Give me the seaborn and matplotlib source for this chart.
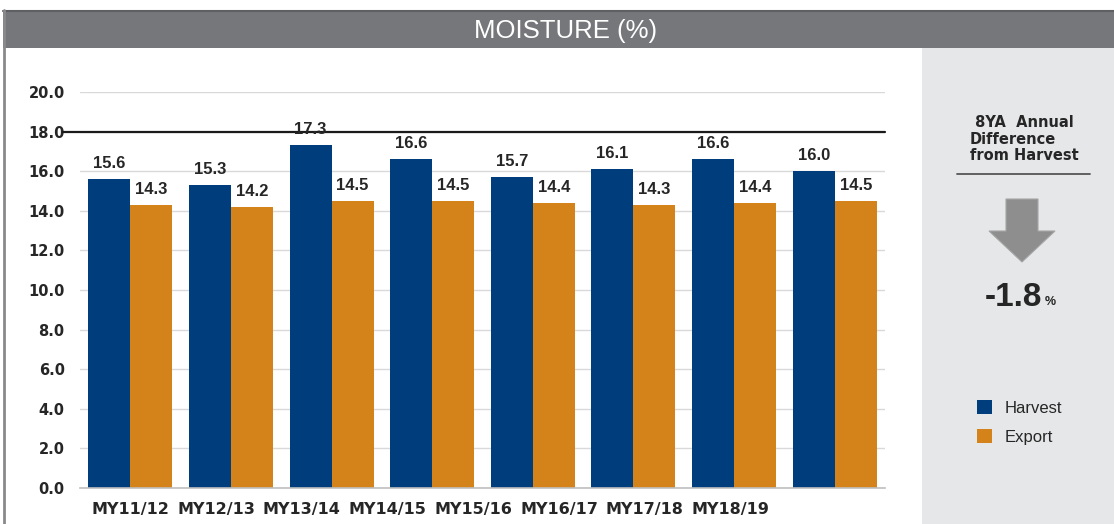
import numpy as np
import pandas as pd
import seaborn as sns
import matplotlib
matplotlib.use("Agg")
import matplotlib.pyplot as plt
from matplotlib.patches import Rectangle, Polygon, Patch
from matplotlib.lines import Line2D

# --- data ---
seasons = ["MY11/12", "MY12/13", "MY13/14", "MY14/15",
           "MY15/16", "MY16/17", "MY17/18", "MY18/19"]
harvest = [15.6, 15.3, 17.3, 16.6, 15.7, 16.1, 16.6, 16.0]
export = [14.3, 14.2, 14.5, 14.5, 14.4, 14.3, 14.4, 14.5]
series_names = ["Harvest", "Export"]
y_ticks = [0, 2, 4, 6, 8, 10, 12, 14, 16, 18, 20]
limit_value = 18.0
avg_difference = -1.8

HARVEST_C = "#003D7C"
EXPORT_C = "#D4821A"
TEXT_C = "#262626"
ARIAL_LIKE = ["Liberation Sans", "DejaVu Sans"]

df = pd.DataFrame({
    "season": seasons * 2,
    "moisture": harvest + export,
    "series": [series_names[0]] * len(seasons) + [series_names[1]] * len(seasons),
})

sns.set_theme(style="white")
plt.rcParams["font.family"] = ["DejaVu Sans"]

W, H = 1114, 524
fig = plt.figure(figsize=(W / 100, H / 100), dpi=100)
fig.patch.set_facecolor("white")


def fx(x):
    return x / W


def fy(y):
    return 1 - y / H


# header bar and side panel
fig.patches.append(Rectangle((fx(3), fy(48)), fx(1114) - fx(3), fy(10) - fy(48),
                             transform=fig.transFigure, facecolor="#76777B",
                             edgecolor="none", zorder=0))
fig.lines.append(Line2D([fx(3), fx(1114)], [fy(10.5), fy(10.5)],
                        transform=fig.transFigure, color="#5E5F62", lw=1.5))
fig.lines.append(Line2D([fx(4), fx(4)], [fy(10), fy(524)],
                        transform=fig.transFigure, color="#8A8A8C", lw=2))
fig.patches.append(Rectangle((fx(922), fy(524)), fx(1114) - fx(922), fy(48) - fy(524),
                             transform=fig.transFigure, facecolor="#E6E7E9",
                             edgecolor="none", zorder=0))
fig.text(fx(566), fy(31), "MOISTURE (%)", color="white", fontsize=18.5,
         family=["Liberation Sans Narrow", "Liberation Sans", "DejaVu Sans"],
         ha="center", va="center")

# main bar chart
ax = fig.add_axes([fx(80), fy(488), fx(885) - fx(80), fy(92) - fy(488)])
sns.barplot(data=df, x="season", y="moisture", hue="series",
            palette=[HARVEST_C, EXPORT_C], width=0.835, saturation=1,
            linewidth=0, ax=ax, legend=False)
ax.set_xlim(-0.5, len(seasons) - 0.5)
ax.set_ylim(0, 20)
ax.set_yticks(y_ticks)
ax.set_yticklabels([f"{v:.1f}" for v in y_ticks])
ax.yaxis.grid(True, color="#D9D9D9", lw=1)
ax.set_axisbelow(True)
for s in ["top", "right", "left"]:
    ax.spines[s].set_visible(False)
ax.spines["bottom"].set_color("#BFBFBF")
ax.spines["bottom"].set_linewidth(1.2)
ax.set_xlabel("")
ax.set_ylabel("")

# category labels run on a slightly tighter step than the bar groups
label_step = 0.852
ax.set_xticks(np.arange(len(seasons)) * label_step)
ax.set_xticklabels(seasons)
ax.tick_params(axis="x", length=0, pad=10, labelsize=11.5, labelcolor=TEXT_C)
ax.tick_params(axis="y", length=0, pad=11, labelsize=10.5, labelcolor=TEXT_C)
for lab in ax.get_xticklabels() + ax.get_yticklabels():
    lab.set_fontweight("bold")

ax.axhline(limit_value, xmin=-0.021, xmax=1, color="#1A1A1A", lw=1.6,
           clip_on=False, zorder=3)

for cont in ax.containers:
    ax.bar_label(cont, fmt="%.1f", padding=6, fontsize=12,
                 fontweight="bold", color=TEXT_C, family=ARIAL_LIKE)

# side panel content
fig.text(fx(1024), fy(139), " 8YA  Annual\nDifference\nfrom Harvest",
         ha="center", va="center", fontsize=10.5, fontweight="bold",
         color=TEXT_C, linespacing=1.15, multialignment="left")
fig.lines.append(Line2D([fx(957), fx(1090)], [fy(174), fy(174)],
                        transform=fig.transFigure, color="#555555", lw=1.3))
arrow_pts = [(1006, 199), (1038, 199), (1038, 231), (1055, 231),
             (1022, 262), (989, 231), (1006, 231)]
fig.patches.append(Polygon([(fx(x), fy(y)) for x, y in arrow_pts], closed=True,
                           transform=fig.transFigure, facecolor="#8E8E8E",
                           edgecolor="#A6A6A6", lw=0.8))
fig.text(fx(1042), fy(298), f"{avg_difference:.1f}", ha="right", va="center",
         fontsize=24, fontweight="bold", color=TEXT_C, family=ARIAL_LIKE)
fig.text(fx(1045), fy(302), "%", ha="left", va="center", fontsize=9,
         fontweight="bold", color=TEXT_C, family=ARIAL_LIKE)

handles = [Patch(facecolor=HARVEST_C, edgecolor="none"),
           Patch(facecolor=EXPORT_C, edgecolor="none")]
fig.legend(handles, series_names, loc="upper left",
           bbox_to_anchor=(fx(962), fy(385)), frameon=False,
           handlelength=0.9, handleheight=0.9, handletextpad=0.75,
           labelspacing=0.8, labelcolor=TEXT_C,
           prop={"family": ARIAL_LIKE, "size": 12})

fig.savefig("out.png", dpi=100)
